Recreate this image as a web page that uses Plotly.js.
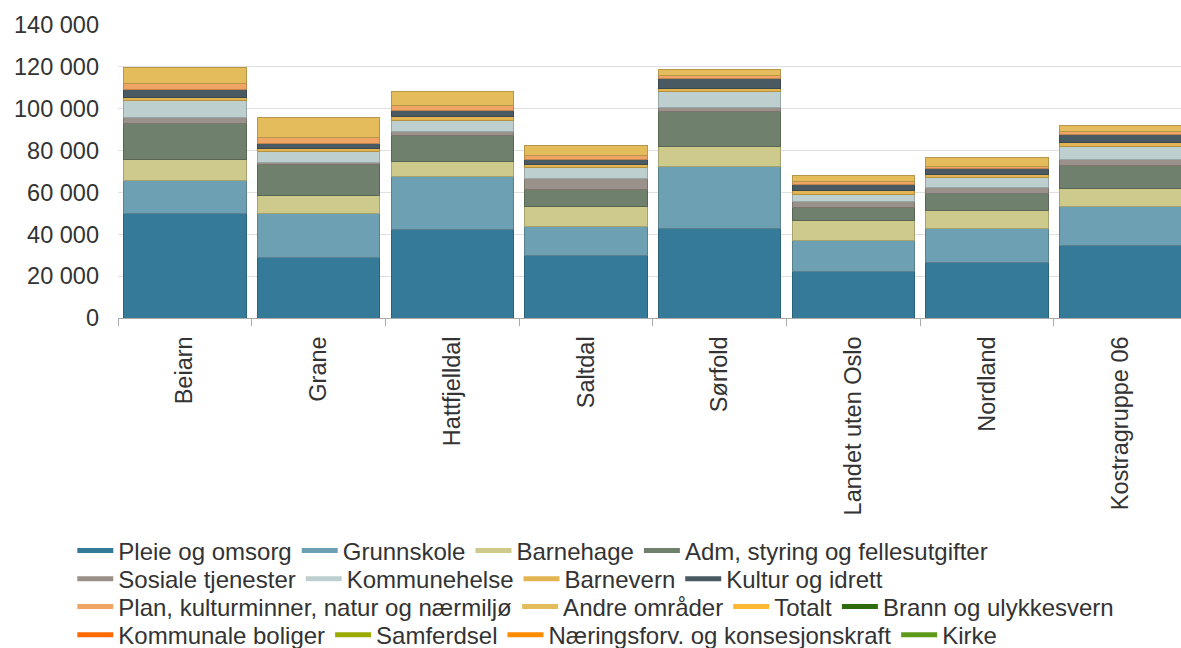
<!DOCTYPE html>
<html>
<head>
<meta charset="utf-8">
<script src="https://cdn.plot.ly/plotly-3.0.1.min.js"></script>
<style>html,body{margin:0;padding:0;background:#fff}#chart{width:1181px;height:648px}</style>
</head>
<body>
<div id="chart"></div>
<script>
const categories = ["Beiarn","Grane","Hattfjelldal","Saltdal","Sørfold","Landet uten Oslo","Nordland","Kostragruppe 06"];

const pleieOgOmsorg      = [49700, 28800, 42400, 29800, 42800, 22100, 26600, 34500];
const grunnskole         = [16200, 20900, 25400, 14100, 29800, 15100, 16200, 18700];
const barnehage          = [9600, 8700, 6800, 9600, 9500, 9600, 8800, 8700];
const admStyring         = [17500, 15100, 12500, 8000, 16800, 5900, 8000, 10900];
const sosialeTjenester   = [2700, 900, 1900, 5200, 1700, 2800, 2600, 2700];
const kommunehelse       = [8400, 5000, 5600, 5100, 7500, 3700, 4700, 6600];
const barnevern          = [1100, 1600, 1900, 1700, 1600, 1900, 1900, 1800];
const kulturOgIdrett     = [4000, 2400, 2800, 2400, 4800, 2700, 2500, 3800];
const planKultur         = [2900, 2900, 2400, 1600, 1500, 1300, 1300, 1300];
const andreOmrader       = [7600, 9700, 6700, 5000, 2800, 3200, 4100, 3200];
const totalt             = [0, 0, 0, 0, 0, 0, 0, 0];
const brann              = [0, 0, 0, 0, 0, 0, 0, 0];
const kommunaleBoliger   = [0, 0, 0, 0, 0, 0, 0, 0];
const samferdsel         = [0, 0, 0, 0, 0, 0, 0, 0];
const naeringsforv       = [0, 0, 0, 0, 0, 0, 0, 0];
const kirke              = [0, 0, 0, 0, 0, 0, 0, 0];

const seriesNames = ["Pleie og omsorg","Grunnskole","Barnehage","Adm, styring og fellesutgifter",
  "Sosiale tjenester","Kommunehelse","Barnevern","Kultur og idrett",
  "Plan, kulturminner, natur og nærmiljø","Andre områder","Totalt","Brann og ulykkesvern",
  "Kommunale boliger","Samferdsel","Næringsforv. og konsesjonskraft","Kirke"];
const seriesValues = [pleieOgOmsorg, grunnskole, barnehage, admStyring, sosialeTjenester, kommunehelse,
  barnevern, kulturOgIdrett, planKultur, andreOmrader, totalt, brann, kommunaleBoliger, samferdsel, naeringsforv, kirke];
const seriesColors = ["#357a98","#6ea0b3","#cdca8c","#6f806c","#9a928a","#bdd0cf","#e2b552","#4a5a62",
  "#f0a564","#e4bc5c","#ffb833","#2e6b0c","#ff6a00","#9aab00","#ff8c00","#5e9a1a"];

function darker(hex, f){
  const n = parseInt(hex.slice(1),16);
  const r = Math.round(((n>>16)&255)*f), g = Math.round(((n>>8)&255)*f), b = Math.round((n&255)*f);
  return `rgb(${r},${g},${b})`;
}

const traces = [];
seriesNames.forEach((name,i)=>{
  const vals = seriesValues[i];
  if (vals.some(v=>v!==0)) {
    traces.push({type:"bar", name:name, x:categories, y:vals, showlegend:false,
      marker:{color:seriesColors[i], line:{color:darker(seriesColors[i],0.8), width:1}},
      hoverinfo:"x+y+name"});
  }
});
const legendIds = ["legend","legend2","legend3","legend4"];
seriesNames.forEach((name,i)=>{
  traces.push({type:"scatter", mode:"lines", name:name, x:[null], y:[null],
    line:{color:seriesColors[i], width:5}, showlegend:true, hoverinfo:"skip",
    legend: legendIds[Math.floor(i/4)]});
});

const font = {family:"Liberation Sans, Arial, sans-serif", size:23.5, color:"#333"};
const legendFont = {family:"Liberation Sans, Arial, sans-serif", size:24, color:"#333"};
const legendBase = {orientation:"h", x:-0.043, xanchor:"left", yanchor:"middle", traceorder:"normal",
    font:legendFont, bgcolor:"rgba(0,0,0,0)", itemwidth:36};
const rowY = [-0.795, -0.891, -0.986, -1.082];
const layout = {
  width:1181, height:648,
  margin:{l:118, r:0, t:25, b:330, autoexpand:false},
  barmode:"stack", bargap:0.085,
  separators:", ",
  font:font,
  paper_bgcolor:"#fff", plot_bgcolor:"#fff",
  showlegend:true,
  xaxis:{type:"category", range:[-0.5, 7.45], tickangle:-90, showline:true, linecolor:"#aaa", linewidth:1,
    ticks:"outside", tickson:"boundaries", ticklen:7, tickcolor:"#aaa", showgrid:false, tickfont:font,
    automargin:false, ticklabelstandoff:8},
  yaxis:{range:[0,140000], dtick:20000, tickformat:",d", showgrid:true, gridcolor:"#e0e0e0", gridwidth:1,
    zeroline:false, showline:false, ticks:"", tickfont:font, automargin:false, ticklabelstandoff:18},
  legend: Object.assign({}, legendBase, {y:rowY[0]}),
  legend2: Object.assign({}, legendBase, {y:rowY[1]}),
  legend3: Object.assign({}, legendBase, {y:rowY[2]}),
  legend4: Object.assign({}, legendBase, {y:rowY[3]})
};
Plotly.newPlot("chart", traces, layout, {displayModeBar:false, responsive:false});
</script>
</body>
</html>
